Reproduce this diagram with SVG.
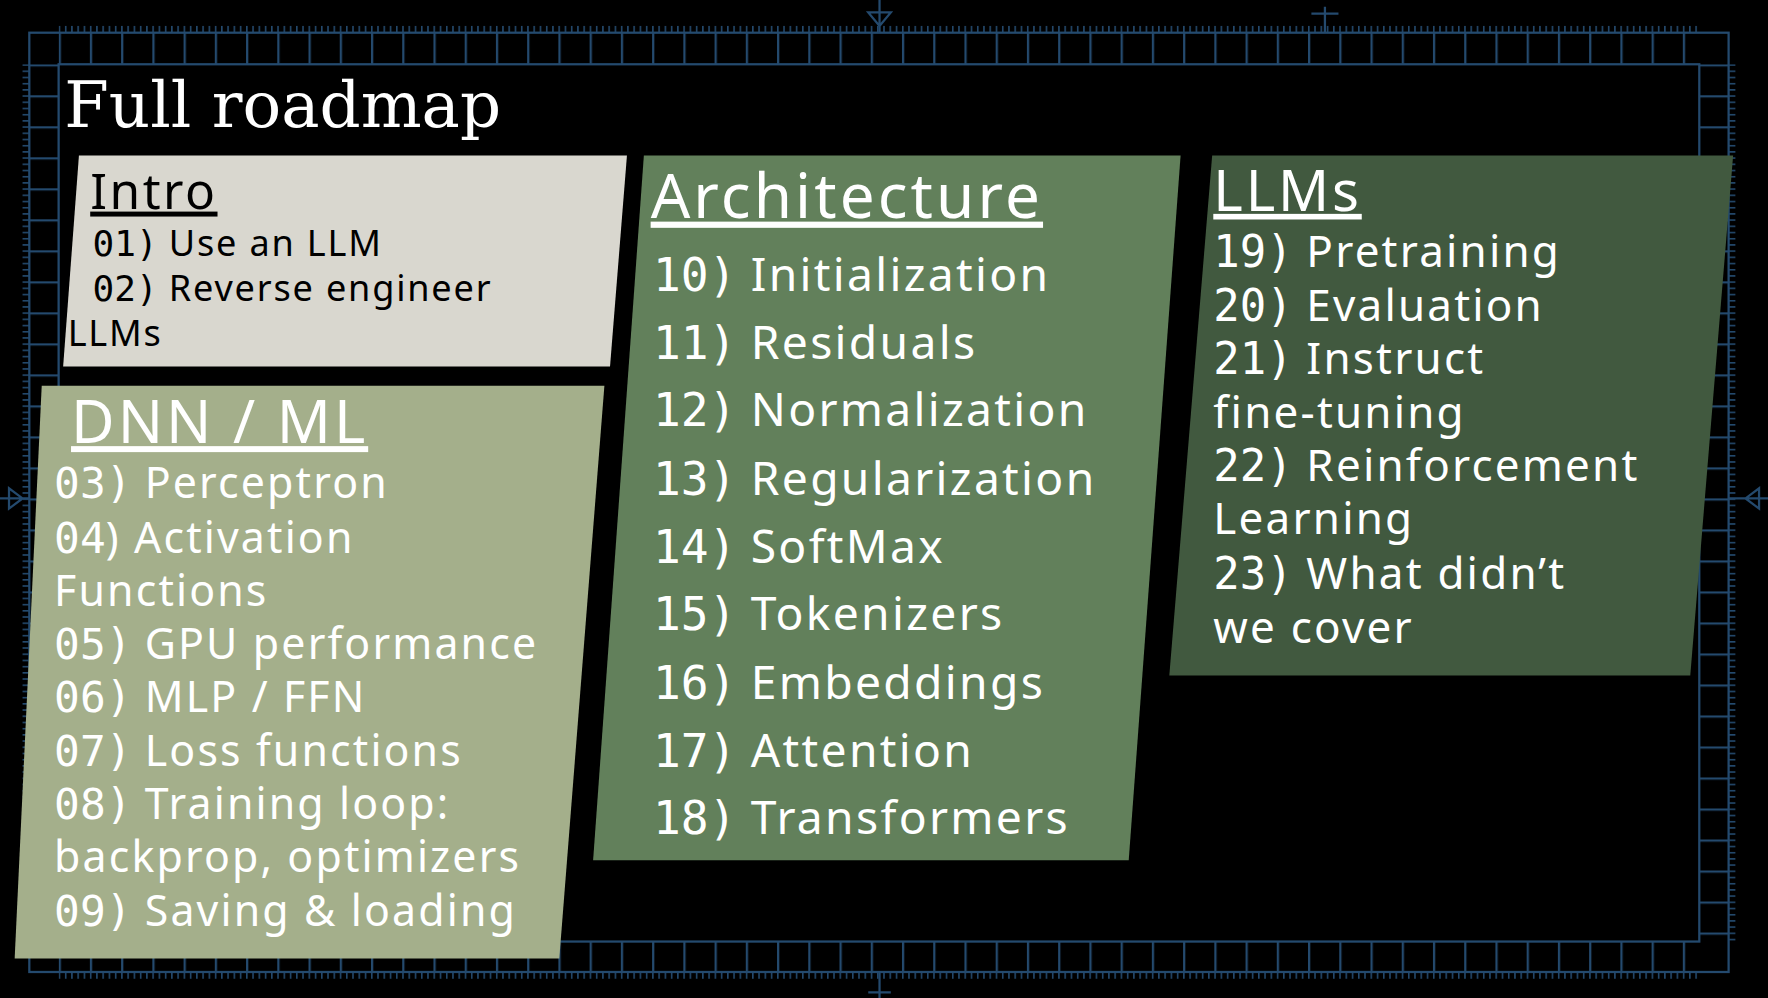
<svg xmlns="http://www.w3.org/2000/svg" width="1768" height="998" viewBox="0 0 1768 998">
<defs>
<style>
.g{stroke:#244a6e;stroke-width:2;fill:none}
.t{font-family:"Noto Sans","DejaVu Sans",sans-serif;fill:#fff;letter-spacing:0.05em}
.m{font-family:"DejaVu Sans Mono",monospace;letter-spacing:0}
.d{fill:#000}
.u{text-decoration:underline}
</style>
<pattern id="pv" width="27.7" height="40" patternUnits="userSpaceOnUse" x="52" y="0"><line x1="1" y1="0" x2="1" y2="40" stroke="#244a6e" stroke-width="2"/></pattern>
<pattern id="ph" width="40" height="27.5" patternUnits="userSpaceOnUse" x="0" y="57"><line x1="0" y1="1" x2="40" y2="1" stroke="#244a6e" stroke-width="2"/></pattern>
<pattern id="tv" width="5.54" height="10" patternUnits="userSpaceOnUse" x="52" y="0"><line x1="0.7" y1="0" x2="0.7" y2="10" stroke="#244a6e" stroke-width="1.4"/></pattern>
<pattern id="th" width="10" height="5.5" patternUnits="userSpaceOnUse" x="0" y="57"><line x1="0" y1="0.7" x2="10" y2="0.7" stroke="#244a6e" stroke-width="1.4"/></pattern>
</defs>
<rect width="1768" height="998" fill="#000"/>
<g transform="scale(1.1276)">
<g id="grid">
<rect x="52" y="29" width="1455" height="28" fill="url(#pv)"/>
<rect x="52" y="835" width="1455" height="27" fill="url(#pv)"/>
<rect x="26" y="57" width="26" height="778" fill="url(#ph)"/>
<rect x="1507" y="57" width="26" height="778" fill="url(#ph)"/>
<rect x="52" y="23" width="1455" height="6" fill="url(#tv)"/>
<rect x="52" y="862" width="1455" height="6" fill="url(#tv)"/>
<rect x="20" y="57" width="6" height="778" fill="url(#th)"/>
<rect x="1533" y="57" width="6" height="778" fill="url(#th)"/>
<rect class="g" x="26" y="29" width="1507" height="833"/>
<rect class="g" x="52" y="57" width="1455" height="778"/>
<path class="g" d="M770 11 h20 l-10 12 z M780 0 v29 M1175 6 v23 M1163 12 h24 M770 880 h20 M780 862 v23 M8 433 v18 l12 -9 z M1560 433 v18 l-12 -9 z M0 442 h26 M1533 442 h35"/>
</g>
<text x="57" y="113" style="font-family:'DejaVu Serif','Liberation Serif',serif;font-size:57px;fill:#fff">Full roadmap</text>
<g id="intro">
<polygon points="70,138 556,138 541,325 56,325" fill="#d9d7cf"/>
<text class="t d u" x="80" y="185" font-size="44">Intro</text>
<text class="t d" x="82" y="227" font-size="32"><tspan class="m">01)</tspan> Use an LLM</text>
<text class="t d" x="82" y="267" font-size="32"><tspan class="m">02)</tspan> Reverse engineer</text>
<text class="t d" x="60" y="307" font-size="32">LLMs</text>
</g>
<g id="dnn">
<polygon points="37,342 536,342 496,850 13,850" fill="#a4af8b"/>
<text class="t u" x="63" y="393" font-size="53">DNN / ML</text>
<g font-size="38">
<text class="t" x="48" y="442"><tspan class="m">03)</tspan> Perceptron</text>
<text class="t" x="48" y="490"><tspan class="m">04</tspan>) Activation</text>
<text class="t" x="48" y="537">Functions</text>
<text class="t" x="48" y="584"><tspan class="m">05)</tspan> GPU performance</text>
<text class="t" x="48" y="631"><tspan class="m">06)</tspan> MLP / FFN</text>
<text class="t" x="48" y="679"><tspan class="m">07)</tspan> Loss functions</text>
<text class="t" x="48" y="726"><tspan class="m">08)</tspan> Training loop:</text>
<text class="t" x="48" y="773">backprop, optimizers</text>
<text class="t" x="48" y="821"><tspan class="m">09)</tspan> Saving &amp; loading</text>
</g>
</g>
<g id="arch">
<polygon points="571,138 1047,138 1001,763 526,763" fill="#62805b"/>
<text class="t u" x="577" y="193" font-size="55">Architecture</text>
<g font-size="41">
<text class="t" x="579" y="258"><tspan class="m">10)</tspan> Initialization</text>
<text class="t" x="579" y="318"><tspan class="m">11)</tspan> Residuals</text>
<text class="t" x="579" y="378"><tspan class="m">12)</tspan> Normalization</text>
<text class="t" x="579" y="439"><tspan class="m">13)</tspan> Regularization</text>
<text class="t" x="579" y="499"><tspan class="m">14)</tspan> SoftMax</text>
<text class="t" x="579" y="559"><tspan class="m">15)</tspan> Tokenizers</text>
<text class="t" x="579" y="620"><tspan class="m">16)</tspan> Embeddings</text>
<text class="t" x="579" y="680"><tspan class="m">17)</tspan> Attention</text>
<text class="t" x="579" y="740"><tspan class="m">18)</tspan> Transformers</text>
</g>
</g>
<g id="llms">
<polygon points="1075,138 1537,138 1499,599 1037,599" fill="#41593f"/>
<text class="t u" x="1076" y="187" font-size="50">LLMs</text>
<g font-size="39">
<text class="t" x="1076" y="237"><tspan class="m">19)</tspan> Pretraining</text>
<text class="t" x="1076" y="285"><tspan class="m">20)</tspan> Evaluation</text>
<text class="t" x="1076" y="332"><tspan class="m">21)</tspan> Instruct</text>
<text class="t" x="1076" y="380">fine-tuning</text>
<text class="t" x="1076" y="427"><tspan class="m">22)</tspan> Reinforcement</text>
<text class="t" x="1076" y="474">Learning</text>
<text class="t" x="1076" y="522"><tspan class="m">23)</tspan> What didn’t</text>
<text class="t" x="1076" y="570">we cover</text>
</g>
</g>
</g>
</svg>
